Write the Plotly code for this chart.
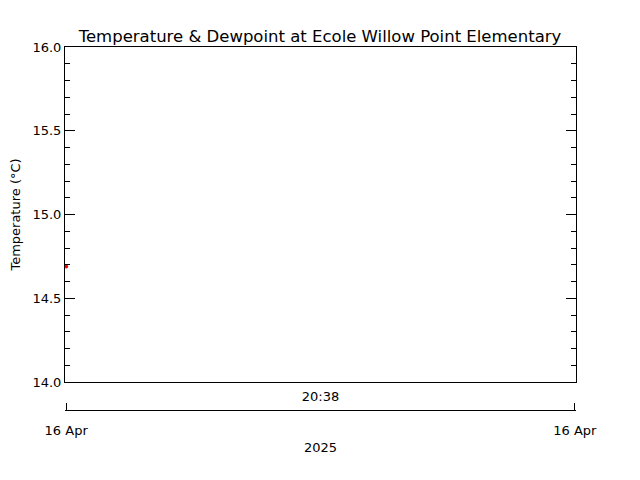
import plotly.graph_objects as go

# Data
times = ["2025-04-16 20:08:08"]
temperature = [14.69]
dewpoint_times = []
dewpoint = []

x_start = "2025-04-16 20:08:00"
x_end = "2025-04-16 21:08:00"
x_tick = ["2025-04-16 20:38:00"]
x_tick_text = ["20:38"]
date_ticks = ["2025-04-16 20:08:08", "2025-04-16 21:07:52"]
date_tick_text = ["16 Apr", "16 Apr"]
year_label = "2025"
title = "Temperature & Dewpoint at Ecole Willow Point Elementary"
y_title = "Temperature (°C)"
y_range = [14.0, 16.0]

FONT = "DejaVu Sans"
OFF = 8  # page body margin

fig = go.Figure()
fig.add_trace(go.Scatter(x=times, y=temperature, mode="lines+markers",
                         line=dict(color="red", width=1),
                         marker=dict(color="red", size=4),
                         cliponaxis=False,
                         name="Temperature", xaxis="x", yaxis="y"))
fig.add_trace(go.Scatter(x=dewpoint_times, y=dewpoint, mode="lines",
                         line=dict(color="blue", width=1),
                         name="Dewpoint", xaxis="x", yaxis="y"))
# invisible trace to activate the lower date axis
fig.add_trace(go.Scatter(x=[x_start, x_end], y=[None, None], mode="lines",
                         showlegend=False, xaxis="x2", yaxis="y",
                         hoverinfo="skip"))

W, H = 640, 480
L, R = 65 - OFF, W - 576 + OFF
T = 47 - OFF
B = 30 + OFF
plot_bottom = 382 - OFF
line2_y = 410 - OFF
paper_h = H - T - B
y_dom0 = (H - B - plot_bottom) / paper_h
pos2 = (H - B - line2_y) / paper_h

fig.update_layout(
    width=W, height=H,
    margin=dict(l=L, r=R, t=T, b=B, autoexpand=False),
    paper_bgcolor="white", plot_bgcolor="white",
    showlegend=False,
    font=dict(family=FONT, size=13, color="black"),
    title=dict(text=title, x=(320 - OFF) / W, xanchor="center",
               y=1 - (36 - OFF) / H,
               yanchor="middle", font=dict(family=FONT, size=16.5, color="black")),
    xaxis=dict(type="date", range=[x_start, x_end], tickvals=x_tick,
               ticktext=x_tick_text, ticks="", showline=True, linecolor="black",
               linewidth=1, mirror=True, showgrid=False, zeroline=False,
               anchor="y", fixedrange=True, ticklabelstandoff=2,
               tickfont=dict(family=FONT, size=13)),
    xaxis2=dict(type="date", range=[x_start, x_end], overlaying="x",
                anchor="free", position=pos2, side="bottom",
                tickvals=date_ticks, ticktext=date_tick_text,
                ticks="inside", ticklen=7, tickwidth=1, tickcolor="black", showline=True,
                linecolor="black", linewidth=1, showgrid=False, zeroline=False,
                ticklabelstandoff=8,
                title=dict(text=year_label, standoff=6,
                           font=dict(family=FONT, size=13)),
                tickfont=dict(family=FONT, size=13)),
    yaxis=dict(range=y_range, domain=[y_dom0, 1], tickvals=[14.0, 14.5, 15.0, 15.5, 16.0],
               tickformat=".1f", ticks="inside", ticklen=10, tickcolor="black",
               showline=True, linecolor="black", linewidth=1, mirror="ticks",
               showgrid=False, zeroline=False,
               minor=dict(dtick=0.1, tick0=14.0, ticks="inside", ticklen=5,
                          tickcolor="black"),
               title=dict(text=y_title, standoff=8,
                          font=dict(family=FONT, size=13)),
               tickfont=dict(family=FONT, size=13)),
)

fig.write_html("out.html")
